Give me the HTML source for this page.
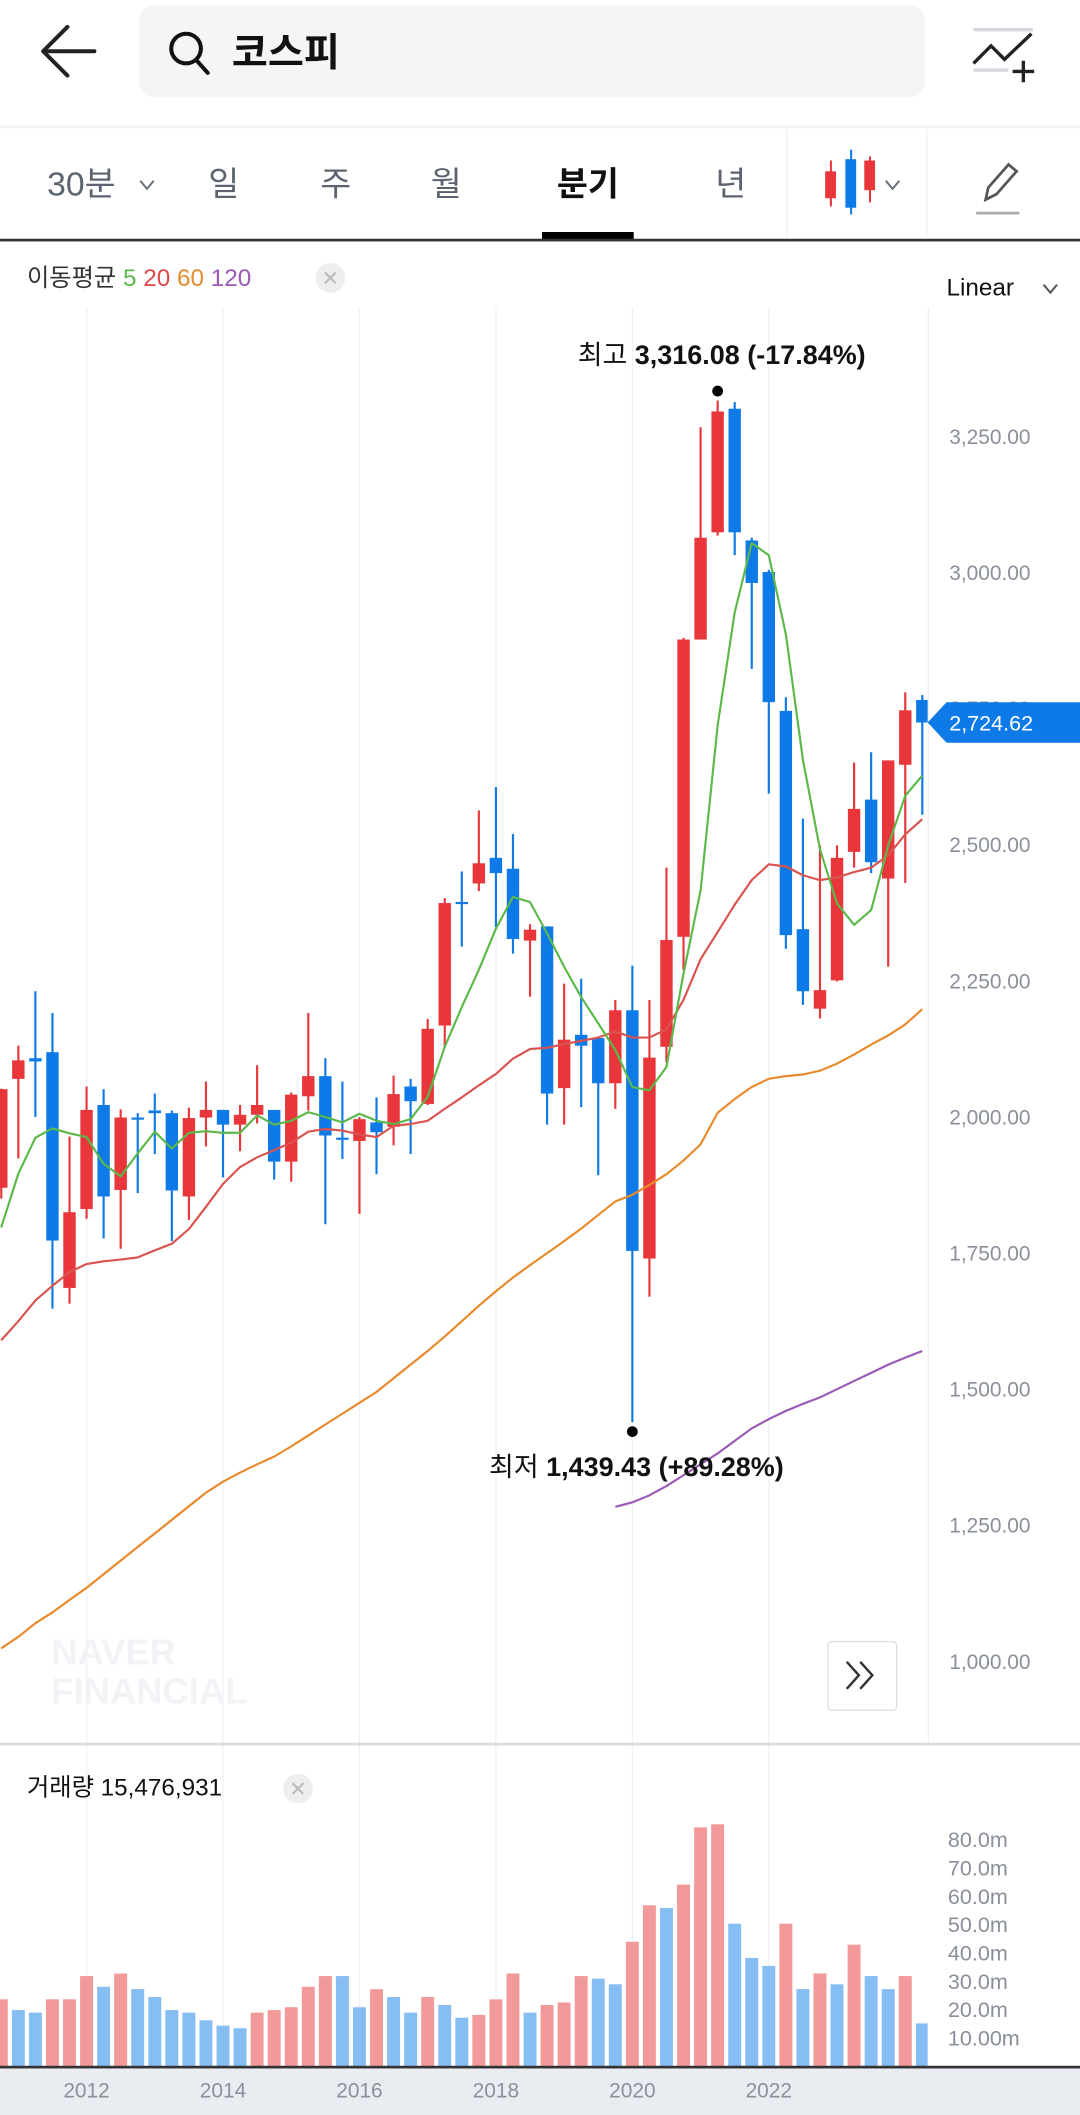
<!DOCTYPE html>
<html><head><meta charset="utf-8">
<style>
html,body{margin:0;padding:0;background:#fff;}
svg{display:block;font-family:"Liberation Sans","Noto Sans CJK KR",sans-serif;}
</style></head>
<body>
<svg id="root" width="1080" height="2115" viewBox="0 0 801 1568" preserveAspectRatio="none" xmlns="http://www.w3.org/2000/svg">
  <defs>
    <clipPath id="priceClip"><rect x="0" y="180" width="688" height="1112"/></clipPath>
    <clipPath id="volClip"><rect x="0" y="1296" width="688" height="236"/></clipPath>
  </defs>
  <g>
    <path d="M70 38 H33 M50 20 L32 38 L50 56" fill="none" stroke="#222" stroke-width="3" stroke-linecap="round" stroke-linejoin="round"/>
    <rect x="103" y="4" width="583" height="68" rx="11" fill="#f4f5f7"/>
    <g fill="none" stroke="#111" stroke-width="3">
      <circle cx="138" cy="36" r="11"/><path d="M146 45 L154 54" stroke-linecap="round"/>
    </g>
    <text x="172" y="49" font-size="29" font-weight="bold" fill="#111">코스피</text>
    <g fill="none">
      <path d="M722 22 H766 M722 52 H748" stroke="#d5d7dc" stroke-width="2.5"/>
      <path d="M722 47 L735 34 L745 44 L765 25" stroke="#222" stroke-width="2.5"/>
      <path d="M759 45 V61 M751 53 H767" stroke="#222" stroke-width="2.5"/>
    </g>
    <rect x="0" y="93" width="801" height="2" fill="#f0f1f3"/>
  </g>
  <g font-size="25">
    <text x="35" y="145" fill="#5c6370">30분</text>
    <path d="M104 134 L109 140 L114 134" fill="none" stroke="#6b7280" stroke-width="1.5"/>
    <text x="166" y="145" text-anchor="middle" fill="#5c6370">일</text>
    <text x="249" y="145" text-anchor="middle" fill="#5c6370">주</text>
    <text x="331" y="145" text-anchor="middle" fill="#5c6370">월</text>
    <text x="436" y="145" text-anchor="middle" fill="#111" font-weight="bold">분기</text>
    <text x="542" y="145" text-anchor="middle" fill="#5c6370">년</text>
    <rect x="583" y="96" width="1" height="80" fill="#eef0f3"/>
    <rect x="687" y="96" width="1" height="80" fill="#eef0f3"/>
    <g>
      <rect x="615.5" y="119" width="1.5" height="34" fill="#e8363a"/><rect x="612" y="127" width="8" height="20" fill="#e8363a"/>
      <rect x="630.5" y="111" width="1.5" height="48" fill="#0d7ae8"/><rect x="627" y="118" width="8" height="36" fill="#0d7ae8"/>
      <rect x="644.5" y="116" width="1.5" height="34" fill="#e8363a"/><rect x="641" y="119" width="8" height="22" fill="#e8363a"/>
      <path d="M657 134 L662 140 L667 134" fill="none" stroke="#6b7280" stroke-width="1.5"/>
    </g>
    <g fill="none" stroke="#555" stroke-width="2">
      <path d="M731 148 L733 139 L748 122 L754 127 L739 144 Z"/><path d="M724 158 H756" stroke="#aaa"/>
    </g>
    <rect x="402" y="172" width="68" height="6" fill="#000"/>
    <rect x="0" y="177" width="801" height="2" fill="#333"/>
  </g>
  <g font-size="18">
    <text x="20" y="212" fill="#333">이동평균 <tspan fill="#5cb84a">5</tspan> <tspan fill="#e0494a">20</tspan> <tspan fill="#e88a2c">60</tspan> <tspan fill="#9b59b6">120</tspan></text>
    <circle cx="245" cy="206" r="11" fill="#eee"/>
    <path d="M241 202 L249 210 M249 202 L241 210" stroke="#bbb" stroke-width="1.6"/>
  </g>
  <g>
    <text x="702" y="219" font-size="18" fill="#111">Linear</text>
    <path d="M774 211 L779 217 L784 211" fill="none" stroke="#555" stroke-width="1.5"/>
  </g>
  <g id="grid"></g>
  <rect x="688" y="228" width="1" height="1064" fill="#eef2f8"/>
  <g font-size="27" font-weight="bold" fill="#f2f3f6">
    <text x="38" y="1234">NAVER</text><text x="38" y="1263">FINANCIAL</text>
  </g>
  <g id="yaxis"></g>
  <g id="price" clip-path="url(#priceClip)"></g>
  <g id="annot"></g>
  <g>
    <rect x="614" y="1217" width="51" height="51" rx="3" fill="#fff" stroke="#dcdfe4"/>
    <path d="M628 1232 L637 1242 L628 1252 M638 1232 L647 1242 L638 1252" fill="none" stroke="#333" stroke-width="1.8"/>
  </g>
  <rect x="0" y="1292" width="801" height="2" fill="#d7dade"/>
  <g>
    <text x="20" y="1331" font-size="18" fill="#111">거래량 15,476,931</text>
    <circle cx="221" cy="1326" r="11" fill="#eee"/>
    <path d="M217 1322 L225 1330 M225 1322 L217 1330" stroke="#bbb" stroke-width="1.6"/>
  </g>
  <g id="vol" clip-path="url(#volClip)"></g>
  <g id="vaxis"></g>
  <rect x="0" y="1533" width="801" height="35" fill="#e9ecf0"/>
  <rect x="0" y="1531.5" width="801" height="2" fill="#333"/>
  <g id="xaxis"></g>
</svg>
<script>
// quarters from 2010Q4 (index -37) to 2024Q2 (index 17); index 0 = 2020Q1
const startIdx = -37;
const opens  = [1870,2070,2108,2119,1686,1831,2022,1866,1999,2012,2007,1854,1999,2013,1986,2004,2013,1918,2038,2075,1962,1956,1990,1982,2056,2024,2168,2395,2429,2476,2456,2324,2350,2053,2151,2145,2062,2196,1740,2129,2331,2877,3074,3301,3059,3001,2746,2345,2199,2251,2487,2583,2438,2647,2766];
const highs  = [2052,2131,2231,2191,1964,2056,2051,2014,2007,2043,2012,2017,2065,2013,2022,2095,2013,2045,2191,2108,2065,2000,2036,2076,2070,2180,2402,2451,2563,2606,2520,2354,2350,2245,2254,2148,2215,2278,2215,2458,2880,3267,3316.08,3313,3064,3005,2771,2548,2499,2499,2651,2670,2655,2780,2775];
const lows   = [1850,1924,2000,1648,1657,1813,1777,1758,1860,1932,1772,1811,1946,1889,1937,1988,1885,1881,2012,1803,1923,1822,1895,1948,1932,2022,2128,2313,2415,2349,2300,2221,1986,1986,2018,1893,2015,1439.43,1670,2100,2270,2877,3068,3032,2823,2594,2309,2206,2181,2249,2458,2448,2276,2430,2555];
const closes = [2051,2104,2102,1773,1825,2013,1854,1999,1996,2007,1865,1998,2013,1986,2004,2022,1918,2041,2075,1966,1959,1996,1972,2042,2029,2162,2393,2393,2466,2448,2327,2344,2043,2142,2131,2062,2196,1754,2109,2325,2877,3064,3296,3074,2981,2762,2334,2231,2233,2476,2566,2468,2655,2747,2724.62];
const ma5   = [1797,1896,1962,1979,1970,1963,1914,1891,1933,1973,1942,1971,1974,1971,1971,2003,1986,1993,2009,2000,1990,2006,1993,1987,1996,2037,2129,2202,2270,2346,2404,2395,2337,2276,2220,2172,2123,2055,2049,2092,2263,2416,2720,2927,3054,3032,2886,2656,2492,2392,2353,2380,2499,2590,2627];
const ma20  = [1590,1625,1663,1690,1715,1730,1735,1738,1742,1755,1767,1794,1835,1877,1908,1926,1939,1953,1973,1978,1975,1968,1963,1984,1987,1993,2015,2036,2058,2079,2107,2125,2127,2134,2140,2146,2157,2146,2146,2161,2215,2290,2340,2390,2435,2464,2460,2444,2435,2440,2450,2458,2481,2519,2547];
const ma60  = [1024,1045,1070,1090,1113,1135,1160,1185,1210,1235,1260,1285,1310,1330,1347,1362,1376,1395,1415,1435,1455,1475,1495,1520,1545,1570,1597,1625,1653,1680,1705,1728,1750,1772,1795,1820,1845,1857,1875,1895,1920,1950,2008,2033,2055,2070,2075,2078,2085,2098,2115,2133,2150,2170,2198];
const ma120 = [null,null,null,null,null,null,null,null,null,null,null,null,null,null,null,null,null,null,null,null,null,null,null,null,null,null,null,null,null,null,null,null,null,null,null,null,1284,1292,1305,1322,1342,1362,1382,1405,1428,1445,1460,1473,1485,1500,1515,1530,1545,1558,1570];
const volumes = [23.7,19.9,19.0,23.7,23.7,31.9,28.1,32.8,27.3,24.5,19.9,19.0,16.3,14.4,13.5,19.0,19.9,20.9,28.1,31.9,31.9,20.9,27.3,24.5,19.0,24.5,21.7,17.2,18.2,23.7,32.8,19.0,21.7,22.6,31.9,31.0,29.0,44.0,56.9,55.9,64.2,84.4,85.5,50.4,38.3,35.5,50.4,27.3,32.8,29.0,43.0,31.9,27.3,31.9,15.2];
const volumeUp = [1,0,0,1,1,1,0,1,0,0,0,0,0,0,0,1,1,1,1,1,0,0,1,0,0,1,0,0,1,1,1,0,1,1,1,0,0,1,1,0,1,1,1,0,0,0,1,0,1,0,1,0,0,1,0];
const priceTicks = [1000,1250,1500,1750,2000,2250,2500,2750,3000,3250];
const volTicks = [10,20,30,40,50,60,70,80];
const volTickLabels = ["10.00m","20.0m","30.0m","40.0m","50.0m","60.0m","70.0m","80.0m"];
const years = [2012,2014,2016,2018,2020,2022];

const NS = "http://www.w3.org/2000/svg";
const xOf = i => 469 + 12.65 * (i + startIdx);
const yearX = yr => 469 + 12.65 * (yr - 2020) * 4;
const py = v => 424.5 + (3000 - v) * 0.4036;
const vy = v => 1532 - v * 2.1;
const RED = "#e8363a", BLUE = "#0d7ae8";
function mk(tag, attrs, parent) {
  const e = document.createElementNS(NS, tag);
  for (const k in attrs) e.setAttribute(k, attrs[k]);
  parent.appendChild(e);
  return e;
}
const grid = document.getElementById('grid');
years.forEach(yr => {
  const l = mk('rect', {x: yearX(yr) - 0.5, y: 228, width: 1, height: 1304, fill: '#eef2f8'}, grid);
  
  
});
const yaxis = document.getElementById('yaxis');
priceTicks.forEach(t => {
  const tx = mk('text', {x: 704, y: py(t) + 5.5, 'font-size': 15.5, fill: '#8a909a'}, yaxis);
  tx.textContent = t.toLocaleString('en-US', {minimumFractionDigits: 2});
  
  
});
const price = document.getElementById('price');
const n = closes.length;
for (let i = 0; i < n; i++) {
  const up = closes[i] >= opens[i];
  const c = up ? RED : BLUE;
  const x = xOf(i);
  const w = mk('rect', {x: x - 0.8, y: py(highs[i]), width: 1.6, height: Math.max(1, py(lows[i]) - py(highs[i])), fill: c}, price);
  
  
  const top = py(Math.max(opens[i], closes[i])), bot = py(Math.min(opens[i], closes[i]));
  const b = mk('rect', {x: x - 4.6, y: top, width: 9.2, height: Math.max(1.6, bot - top), fill: c}, price);
  
  
}
function line(arr, color, name) {
  let d = '';
  arr.forEach((v, i) => { if (v == null) return; d += (d ? 'L' : 'M') + xOf(i).toFixed(1) + ' ' + py(v).toFixed(1) + ' '; });
  const p = mk('path', {d: d, fill: 'none', stroke: color, 'stroke-width': 1.6, 'stroke-linejoin': 'round'}, price);
  
  
}
line(ma120, '#9b59b6', 'ma120-line');
line(ma60, '#e88a2c', 'ma60-line');
line(ma20, '#d9534f', 'ma20-line');
line(ma5, '#5cb84a', 'ma5-line');

const annot = document.getElementById('annot');
let hiI = 0, loI = 0;
highs.forEach((v, i) => { if (v > highs[hiI]) hiI = i; });
lows.forEach((v, i) => { if (v < lows[loI]) loI = i; });
const last = closes[n - 1];
const fmt = v => v.toLocaleString('en-US', {minimumFractionDigits: 2, maximumFractionDigits: 2});
const hd = mk('circle', {cx: xOf(hiI), cy: py(highs[hiI]) - 7, r: 4, fill: '#000'}, annot);


const ht = mk('text', {x: xOf(hiI) + 3, y: py(highs[hiI]) - 27, 'text-anchor': 'middle', 'font-size': 20, fill: '#111'}, annot);


ht.innerHTML = '최고  <tspan font-weight="bold">' + fmt(highs[hiI]) + ' (' + ((last - highs[hiI]) / highs[hiI] * 100).toFixed(2) + '%)</tspan>';
const ld = mk('circle', {cx: xOf(loI), cy: py(lows[loI]) + 7, r: 4, fill: '#000'}, annot);


const lt = mk('text', {x: xOf(loI) + 3, y: py(lows[loI]) + 40, 'text-anchor': 'middle', 'font-size': 20, fill: '#111'}, annot);


lt.innerHTML = '최저  <tspan font-weight="bold">' + fmt(lows[loI]) + ' (+' + ((last - lows[loI]) / lows[loI] * 100).toFixed(2) + '%)</tspan>';
const ty = py(last);
const tag = mk('path', {d: `M688 ${ty} L702 ${ty-15} H801 V${ty+15} H702 Z`, fill: BLUE}, annot);


const tagT = mk('text', {x: 704, y: ty + 6, 'font-size': 16, fill: '#fff'}, annot);
tagT.textContent = fmt(last);



const vol = document.getElementById('vol');
for (let i = 0; i < n; i++) {
  const r = mk('rect', {x: xOf(i) - 4.8, y: vy(volumes[i]), width: 9.6, height: 1532 - vy(volumes[i]), fill: volumeUp[i] ? '#f29a9a' : '#86bdf3'}, vol);
  
  
}
const vaxis = document.getElementById('vaxis');
volTicks.forEach((t, k) => {
  const tx = mk('text', {x: 703, y: vy(t) + 5.5, 'font-size': 16, fill: '#8a909a'}, vaxis);
  tx.textContent = volTickLabels[k];
  
  
});
const xaxis = document.getElementById('xaxis');
years.forEach(yr => {
  const tx = mk('text', {x: yearX(yr), y: 1555, 'text-anchor': 'middle', 'font-size': 15.5, fill: '#8a919c'}, xaxis);
  tx.textContent = yr;
  
  
});
</script>
</body></html>
